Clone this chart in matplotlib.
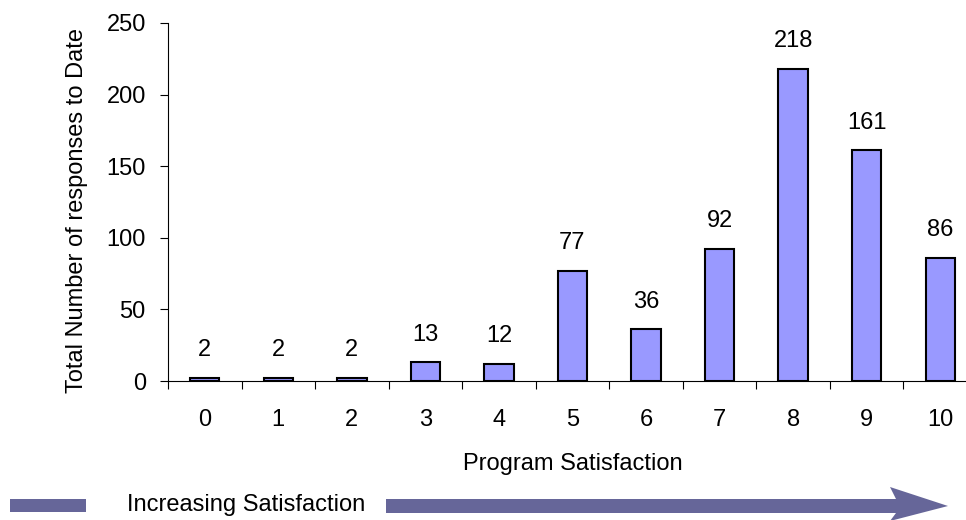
import matplotlib
matplotlib.use("Agg")
import matplotlib.pyplot as plt
from matplotlib.patches import Rectangle, Polygon
from matplotlib.ticker import FixedLocator

plt.rcParams['font.family'] = ['Liberation Sans', 'DejaVu Sans']

# Survey data
categories = [0, 1, 2, 3, 4, 5, 6, 7, 8, 9, 10]
responses = [2, 2, 2, 13, 12, 77, 36, 92, 218, 161, 86]
y_ticks = [0, 50, 100, 150, 200, 250]

FS = 17

fig = plt.figure(figsize=(9.66, 5.2), dpi=100)
ax = fig.add_axes([0.1739, 0.2673, 0.8375, 0.6885])

ax.bar(categories, responses, width=0.4, color='#9999FF',
       edgecolor='black', linewidth=1.5, zorder=3)

for x, v in zip(categories, responses):
    ax.annotate(str(v), (x, v), xytext=(0, 20), textcoords='offset points',
                ha='center', va='center', fontsize=FS)

ax.set_xlim(-0.5, 10.5)
ax.set_ylim(0, 250)
ax.set_yticks(y_ticks)
ax.set_xticks(categories)
ax.set_xticklabels([str(c) for c in categories])
ax.xaxis.set_minor_locator(FixedLocator([c - 0.5 for c in categories] + [10.5]))

ax.tick_params(axis='x', which='major', length=0, pad=20, labelsize=FS)
ax.tick_params(axis='x', which='minor', length=6, width=0.8, direction='out')
ax.tick_params(axis='y', length=6, width=0.8, direction='out', pad=10, labelsize=FS)

for side in ('top', 'right'):
    ax.spines[side].set_visible(False)
for side in ('left', 'bottom'):
    ax.spines[side].set_linewidth(0.8)

ax.set_xlabel('Program Satisfaction', fontsize=FS, labelpad=16)
ax.set_ylabel('Total Number of responses to Date', fontsize=FS)
ax.yaxis.set_label_coords(-0.099, 0.475)

# Direction indicator below the chart
arrow_color = '#666699'
fig.patches.append(Rectangle((10 / 966, 1 - 512 / 520), 76 / 966, 13 / 520,
                             transform=fig.transFigure, facecolor=arrow_color,
                             edgecolor='none'))
fig.text(127 / 966, 1 - 505 / 520, 'Increasing Satisfaction', fontsize=FS,
         ha='left', va='center')

px = [(386, 499), (896, 499), (890, 487), (948, 506), (890, 521),
      (896, 513), (386, 513)]
fig.patches.append(Polygon([(x / 966, 1 - y / 520) for x, y in px], closed=True,
                           transform=fig.transFigure, facecolor=arrow_color,
                           edgecolor='none'))

fig.savefig('out.png', dpi=100)
